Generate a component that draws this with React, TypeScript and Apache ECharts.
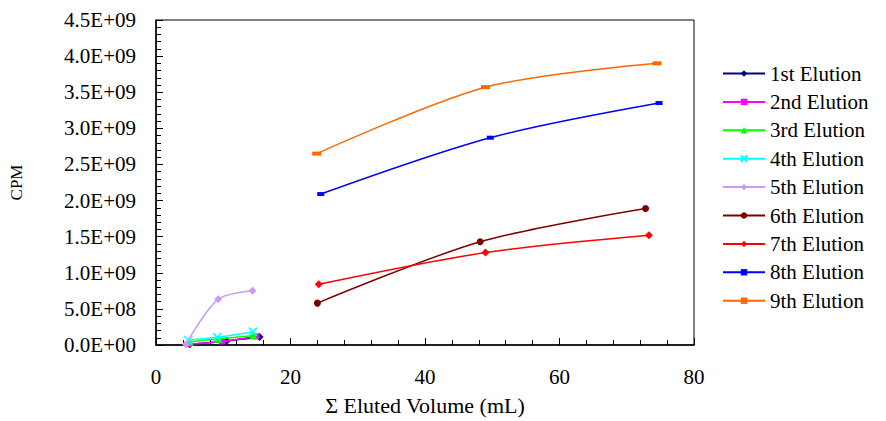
import React, { useEffect, useRef } from "react";
import * as echarts from "echarts";

const seriesNames = [
  "1st Elution", "2nd Elution", "3rd Elution", "4th Elution", "5th Elution",
  "6th Elution", "7th Elution", "8th Elution", "9th Elution",
];

// Σ Eluted volume (mL) per elution
const volume1 = [5.0, 10.5, 15.4];
const volume2 = [4.8, 9.8, 14.9];
const volume3 = [5.0, 9.25, 14.5];
const volume4 = [4.8, 9.1, 14.4];
const volume5 = [4.45, 9.24, 14.35];
const volume6 = [24.0, 48.2, 72.8];
const volume7 = [24.2, 49.0, 73.3];
const volume8 = [24.5, 49.7, 74.8];
const volume9 = [23.9, 49.0, 74.5];

// CPM per elution
const cpm1 = [0.01e9, 0.057e9, 0.11e9];
const cpm2 = [0.012e9, 0.05e9, 0.12e9];
const cpm3 = [0.04e9, 0.085e9, 0.13e9];
const cpm4 = [0.07e9, 0.107e9, 0.185e9];
const cpm5 = [0.01e9, 0.635e9, 0.75e9];
const cpm6 = [0.58e9, 1.43e9, 1.89e9];
const cpm7 = [0.84e9, 1.28e9, 1.52e9];
const cpm8 = [2.09e9, 2.87e9, 3.35e9];
const cpm9 = [2.65e9, 3.57e9, 3.9e9];

const xTicks = [0, 20, 40, 60, 80];
const yTicks = [0, 0.5e9, 1e9, 1.5e9, 2e9, 2.5e9, 3e9, 3.5e9, 4e9, 4.5e9];

const volumes = [volume1, volume2, volume3, volume4, volume5, volume6, volume7, volume8, volume9];
const cpms = [cpm1, cpm2, cpm3, cpm4, cpm5, cpm6, cpm7, cpm8, cpm9];

const colors = ["#000080", "#FF00FF", "#00FF00", "#00FFFF", "#CC99FF", "#800000", "#FF0000", "#0000FF", "#FF6600"];
const xPath = "path://M0,0L10,10M10,0L0,10";
const symbols: any[] = ["diamond", "rect", "triangle", xPath, "diamond", "circle", "diamond", "rect", "rect"];
const symbolSizes: any[] = [8, 6, 8, 8, 8, 7, 8, [7, 4], [9, 4]];

const FONT = "'Liberation Serif', 'Times New Roman', Times, serif";

function sci(v: number): string {
  if (v === 0) return "0.0E+00";
  const e = Math.floor(Math.log10(v) + 1e-9);
  const m = v / Math.pow(10, e);
  return m.toFixed(1) + "E+" + String(e).padStart(2, "0");
}

export default function App() {
  const ref = useRef<HTMLDivElement>(null);
  useEffect(() => {
    if (!ref.current) return;
    const chart = echarts.init(ref.current, undefined, { renderer: "svg" });
    const series = seriesNames.map((name, i) => ({
      name,
      type: "line",
      smooth: 0.3,
      data: volumes[i].map((x, j) => [x, cpms[i][j]]),
      symbol: symbols[i],
      symbolSize: symbolSizes[i],
      showSymbol: true,
      lineStyle: { color: colors[i], width: 1.5 },
      itemStyle:
        i === 3
          ? { color: colors[i], borderColor: colors[i], borderWidth: 1.5 }
          : { color: colors[i], borderColor: colors[i], borderWidth: 0 },
      emphasis: { disabled: true },
      z: 2 + i,
    }));
    chart.setOption({
      animation: false,
      backgroundColor: "#ffffff",
      grid: {
        left: 156,
        right: 192,
        top: 20,
        bottom: 72,
        show: true,
        borderColor: "#000000",
        borderWidth: 1,
        backgroundColor: "transparent",
      },
      legend: {
        orient: "vertical",
        left: 717,
        top: 58,
        itemWidth: 42,
        itemHeight: 8,
        itemGap: 7.4,
        data: seriesNames,
        textStyle: { fontFamily: FONT, fontSize: 21, color: "#000000", lineHeight: 20 },
      },
      xAxis: {
        type: "value",
        min: xTicks[0],
        max: xTicks[xTicks.length - 1],
        interval: 20,
        name: "Σ Eluted Volume (mL)",
        nameLocation: "middle",
        nameGap: 49,
        nameTextStyle: { fontFamily: FONT, fontSize: 22, color: "#000000" },
        axisLine: { show: true, lineStyle: { color: "#000000", width: 1.5 } },
        axisTick: { show: true, inside: true, length: 7, lineStyle: { color: "#000000" } },
        minorTick: { show: true, splitNumber: 5, length: 5, lineStyle: { color: "#000000" } },
        splitLine: { show: false },
        axisLabel: { fontFamily: FONT, fontSize: 21, color: "#000000", margin: 21 },
      },
      yAxis: {
        type: "value",
        min: yTicks[0],
        max: yTicks[yTicks.length - 1],
        interval: 0.5e9,
        name: "CPM",
        nameLocation: "middle",
        nameRotate: 90,
        nameGap: 131,
        nameTextStyle: { fontFamily: FONT, fontSize: 17, color: "#000000" },
        axisLine: { show: true, lineStyle: { color: "#000000", width: 1.5 } },
        axisTick: { show: true, inside: true, length: 7, lineStyle: { color: "#000000" } },
        minorTick: { show: true, splitNumber: 5, length: 5, lineStyle: { color: "#000000" } },
        splitLine: { show: false },
        axisLabel: {
          fontFamily: FONT,
          fontSize: 21,
          color: "#000000",
          margin: 20,
          formatter: (v: number) => sci(v),
        },
      },
      series,
    });
    return () => chart.dispose();
  }, []);
  return (
    <div
      ref={ref}
      style={{ position: "fixed", left: 0, top: 0, width: 886, height: 421, background: "#fff" }}
    />
  );
}
